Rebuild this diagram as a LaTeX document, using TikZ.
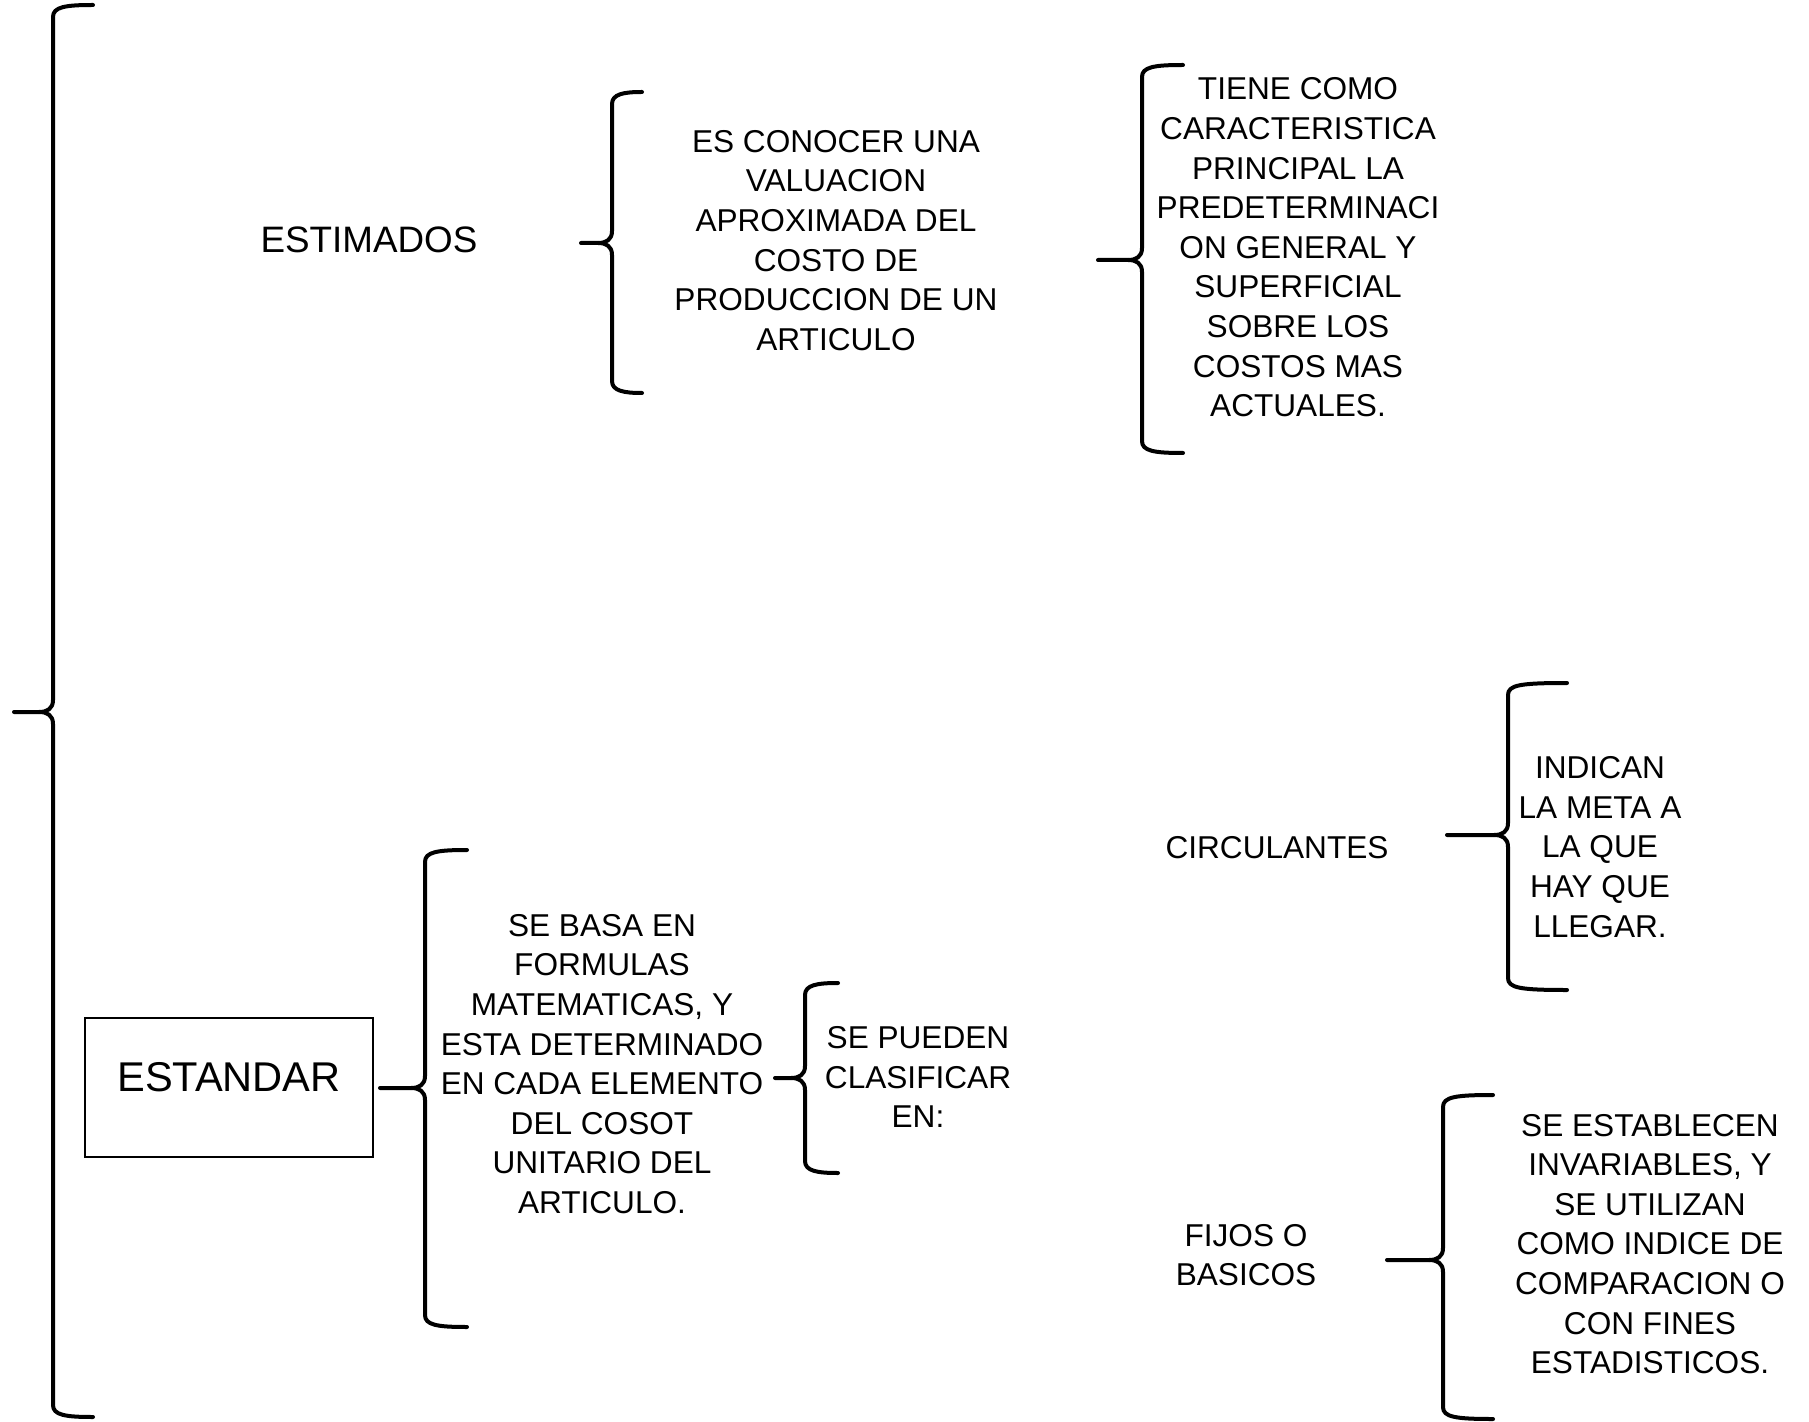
\documentclass[tikz,border=0pt]{standalone}
\usepackage{fontspec}
\setmainfont{Liberation Sans}
\newcommand\bracepath[6]{%
  % #1 spine x, #2 top y, #3 mid y, #4 bottom y, #5 tip x, #6 arm end x
  \draw[bracestyle] (#6,#2) .. controls ({#1+12},#2) and (#1,{#2+2}) .. (#1,{#2+12})
    -- (#1,{#3-12}) .. controls (#1,{#3-3}) and ({#1-6},#3) .. ({#1-14},#3) -- (#5,#3);
  \draw[bracestyle] ({#1-14},#3) .. controls ({#1-6},#3) and (#1,{#3+3}) .. (#1,{#3+12})
    -- (#1,{#4-12}) .. controls (#1,{#4-2}) and ({#1+12},#4) .. (#6,#4);
}
\begin{document}
\begin{tikzpicture}[x=0.5pt,y=-0.5pt,
  bracestyle/.style={line width=2pt,line cap=round,line join=round},
  txt/.style={align=center,inner sep=0pt,font=\fontsize{15.8}{19.8}\selectfont},
  bigtxt/.style={align=center,inner sep=0pt,font=\fontsize{18.4}{22}\selectfont},
  boxtxt/.style={draw,line width=1pt,inner sep=0pt,minimum width=144pt,minimum height=69.5pt,
    text height=15pt,text depth=11pt,font=\fontsize{20.8}{24}\selectfont}]
\useasboundingbox (0,0) rectangle (1809,1422);

% braces
\bracepath{53}{5}{712}{1417}{14}{93}
\bracepath{612}{92}{243}{393}{581}{642}
\bracepath{1142}{65}{260}{453}{1098}{1183}
\bracepath{425}{850}{1088}{1327}{380}{467}
\bracepath{805}{983}{1078}{1173}{775}{838}
\bracepath{1508}{683}{835}{990}{1447}{1567}
\bracepath{1443}{1095}{1260}{1419}{1387}{1493}

% texts
\node[bigtxt] (estimados) at (369,240) {ESTIMADOS};
\node[txt] (desc) at (836,240.5) {ES CONOCER UNA\\VALUACION\\APROXIMADA DEL\\COSTO DE\\PRODUCCION DE UN\\ARTICULO};
\node[txt] (tiene) at (1298,247.5) {TIENE COMO\\CARACTERISTICA\\PRINCIPAL LA\\PREDETERMINACI\\ON GENERAL Y\\SUPERFICIAL\\SOBRE LOS\\COSTOS MAS\\ACTUALES.};
\node[boxtxt] (estandar) at (229,1087.5) {ESTANDAR};
\node[txt] (sebasa) at (602,1064) {SE BASA EN\\FORMULAS\\MATEMATICAS, Y\\ESTA DETERMINADO\\EN CADA ELEMENTO\\DEL COSOT\\UNITARIO DEL\\ARTICULO.};
\node[txt] (sepueden) at (918,1077) {SE PUEDEN\\CLASIFICAR\\EN:};
\node[txt] (circulantes) at (1277,848) {CIRCULANTES};
\node[txt] (indican) at (1600,847) {INDICAN\\LA META A\\LA QUE\\HAY QUE\\LLEGAR.};
\node[txt] (fijos) at (1246,1255) {FIJOS O\\BASICOS};
\node[txt] (seestablecen) at (1650,1244) {SE ESTABLECEN\\INVARIABLES, Y\\SE UTILIZAN\\COMO INDICE DE\\COMPARACION O\\CON FINES\\ESTADISTICOS.};
\end{tikzpicture}
\end{document}
